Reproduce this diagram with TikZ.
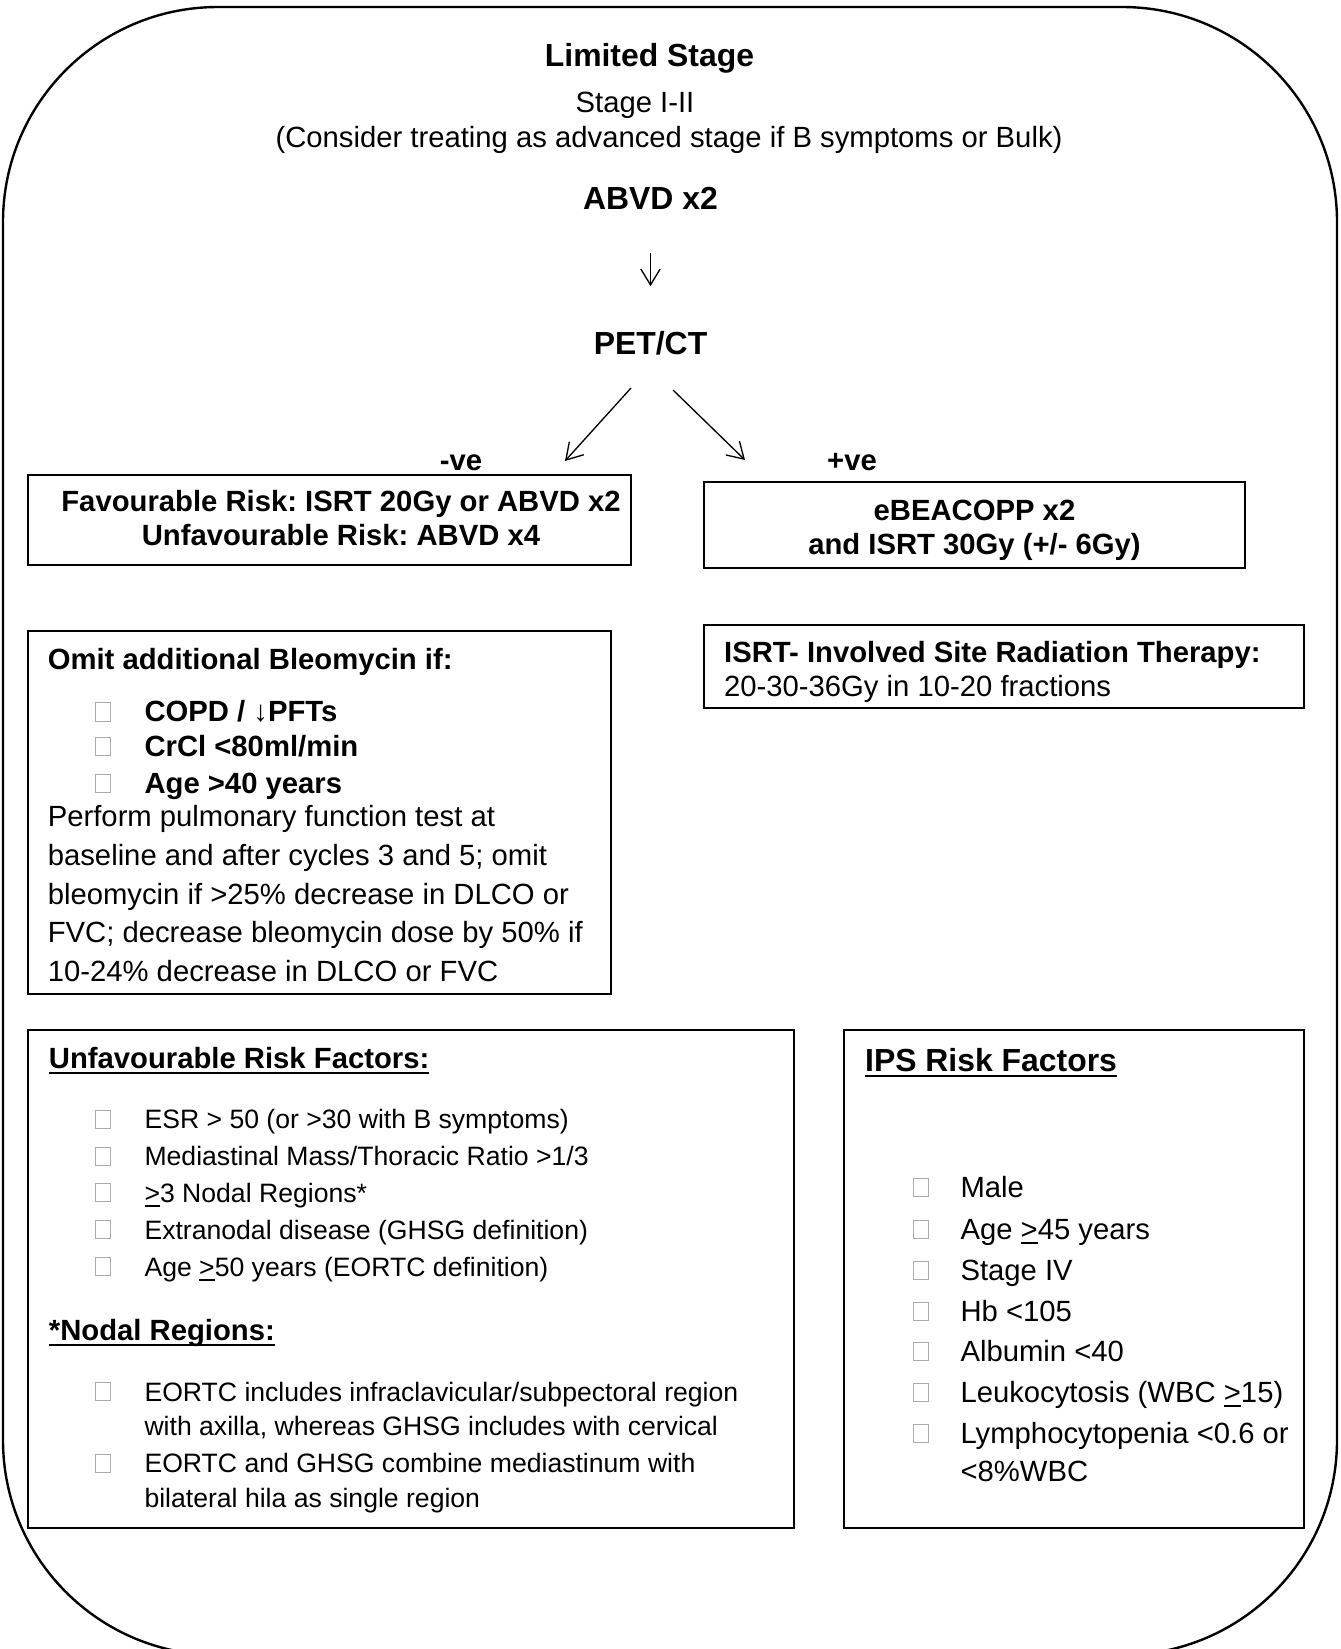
\documentclass[tikz,border=0pt]{standalone}
\usepackage{fontspec}
\setmainfont{Liberation Sans}
\usetikzlibrary{arrows.meta,fit}
\frenchspacing
\newcommand\myul[1]{\setbox0=\hbox{#1}\rlap{\rule[-2.2pt]{\wd0}{0.8pt}}\box0\relax}
\newcommand\myge{\setbox0=\hbox{>}\rlap{\rule[-1.7pt]{\wd0}{0.55pt}}\box0\relax}
\begin{document}
\begin{tikzpicture}[x=0.376pt,y=-0.376pt,
  box/.style={draw, line width=0.75pt, inner sep=0pt},
  t10/.style={font=\fontsize{10}{12}\selectfont, inner sep=0pt, anchor=base west},
  t11/.style={font=\fontsize{11}{13}\selectfont, inner sep=0pt, anchor=base west},
  b11/.style={font=\fontsize{11}{13}\selectfont\bfseries, inner sep=0pt, anchor=base west},
  b12/.style={font=\fontsize{12}{14}\selectfont\bfseries, inner sep=0pt, anchor=base west},
  ctr/.style={anchor=base},
  bul/.style={draw=gray!65, line width=0.35pt, minimum width=5.5pt, minimum height=6.8pt, inner sep=0pt, anchor=south},
  arr/.style={line width=0.5pt, -{Straight Barb[length=6pt,width=7.3pt]}}]
\useasboundingbox (0,0) rectangle (1340,1649);
\begin{scope}
\clip (0,0) rectangle (1340,1649);
\draw[line width=0.9pt, rounded corners=80.8pt] (3,7) rectangle (1337,1655);
\end{scope}

% header
\node[b12, ctr] (title) at (649.5,66) {Limited Stage};
\node[t11, ctr] (stage) at (635,112.5) {Stage I-II};
\node[t11, ctr] (consider) at (669,147) {(Consider treating as advanced stage if B symptoms or Bulk)};
\node[b12, ctr] (abvd) at (650.5,209) {ABVD x2};
\node[b12, ctr] (pet) at (650.5,354.5) {PET/CT};
\draw[arr, shorten <=16.2pt, shorten >=16.8pt] (abvd) -- (pet);

\coordinate (pl) at (631,388);
\coordinate (nl) at (565,461);
\coordinate (pr) at (673,390);
\coordinate (nr) at (745,460);
\draw[arr] (pl) -- (nl);
\draw[arr] (pr) -- (nr);
\node[b11, ctr] (neg) at (461,470) {-ve};
\node[b11, ctr] (pos) at (852,470) {+ve};

% box 1
\node[box, fit={(28,475) (631,565)}] (box1) {};
\node[b11, ctr] (fav) at (341,511) {Favourable Risk: ISRT 20Gy or ABVD x2};
\node[b11, ctr] (unfav) at (341,545) {Unfavourable Risk: ABVD x4};

% box 2
\node[box, fit={(704,482) (1245,568)}] (box2) {};
\node[b11, ctr] (ebea) at (974.5,520) {eBEACOPP x2};
\node[b11, ctr] (isrt30) at (974.5,554) {and ISRT 30Gy (+/- 6Gy)};

% box 3
\node[box, fit={(28,631) (611,994)}] (box3) {};
\node[b11] (omit) at (47.3,669) {Omit additional Bleomycin if:};
\node[bul] (q1) at (103,721.5) {};
\node[b11] (c1) at (144,721.5) {COPD / ↓PFTs};
\node[bul] (q2) at (103,756) {};
\node[b11] (c2) at (144,756) {CrCl <80ml/min};
\node[bul] (q3) at (103,793) {};
\node[b11] (c3) at (144,793) {Age >40 years};
\node[t11] (p1) at (47.3,826.5) {Perform pulmonary function test at};
\node[t11] (p2) at (47.3,865.5) {baseline and after cycles 3 and 5; omit};
\node[t11] (p3) at (47.3,904.5) {bleomycin if >25\% decrease in DLCO or};
\node[t11] (p4) at (47.3,942.5) {FVC; decrease bleomycin dose by 50\% if};
\node[t11] (p5) at (47.3,981.5) {10-24\% decrease in DLCO or FVC};

% box 4
\node[box, fit={(704,625) (1304,708)}] (box4) {};
\node[b11] (isrtdef) at (723.6,662.5) {ISRT- Involved Site Radiation Therapy:};
\node[t11] (isrtdose) at (723.6,696) {20-30-36Gy in 10-20 fractions};

% box 5
\node[box, fit={(28,1030) (794,1528)}] (box5) {};
\node[b11] (uft) at (48.4,1068.5) {\myul{Unfavourable Risk Factors:}};
\node[bul] (r1) at (103,1128.6) {};
\node[t10] (u1) at (144,1128.6) {ESR > 50 (or >30 with B symptoms)};
\node[bul] (r2) at (103,1165.5) {};
\node[t10] (u2) at (144,1165.5) {Mediastinal Mass/Thoracic Ratio >1/3};
\node[bul] (r3) at (103,1202) {};
\node[t10] (u3) at (144,1202) {\myge{}3 Nodal Regions*};
\node[bul] (r4) at (103,1239) {};
\node[t10] (u4) at (144,1239) {Extranodal disease (GHSG definition)};
\node[bul] (r5) at (103,1276) {};
\node[t10] (u5) at (144,1276) {Age \myge{}50 years (EORTC definition)};
\node[b11] (nodt) at (48.4,1340) {\myul{*Nodal Regions:}};
\node[bul] (r6) at (103,1401) {};
\node[t10] (n1) at (144,1401) {EORTC includes infraclavicular/subpectoral region};
\node[t10] (n1b) at (144,1435.6) {with axilla, whereas GHSG includes with cervical};
\node[bul] (r7) at (103,1472.5) {};
\node[t10] (n2) at (144,1472.5) {EORTC and GHSG combine mediastinum with};
\node[t10] (n2b) at (144,1507) {bilateral hila as single region};

% box 6
\node[box, fit={(843.5,1030) (1304,1528)}] (box6) {};
\node[b12] (ipst) at (864.6,1071.5) {\myul{IPS Risk Factors}};
\node[bul] (s1) at (921,1197) {};
\node[t11] (i1) at (960,1197) {Male};
\node[bul] (s2) at (921,1239) {};
\node[t11] (i2) at (960,1239) {Age \myge{}45 years};
\node[bul] (s3) at (921,1280) {};
\node[t11] (i3) at (960,1280) {Stage IV};
\node[bul] (s4) at (921,1321) {};
\node[t11] (i4) at (960,1321) {Hb <105};
\node[bul] (s5) at (921,1361) {};
\node[t11] (i5) at (960,1361) {Albumin <40};
\node[bul] (s6) at (921,1402) {};
\node[t11] (i6) at (960,1402) {Leukocytosis (WBC \myge{}15)};
\node[bul] (s7) at (921,1443) {};
\node[t11] (i7) at (960,1443) {Lymphocytopenia <0.6 or};
\node[t11] (i7b) at (960,1481) {<8\%WBC};
\end{tikzpicture}
\end{document}
